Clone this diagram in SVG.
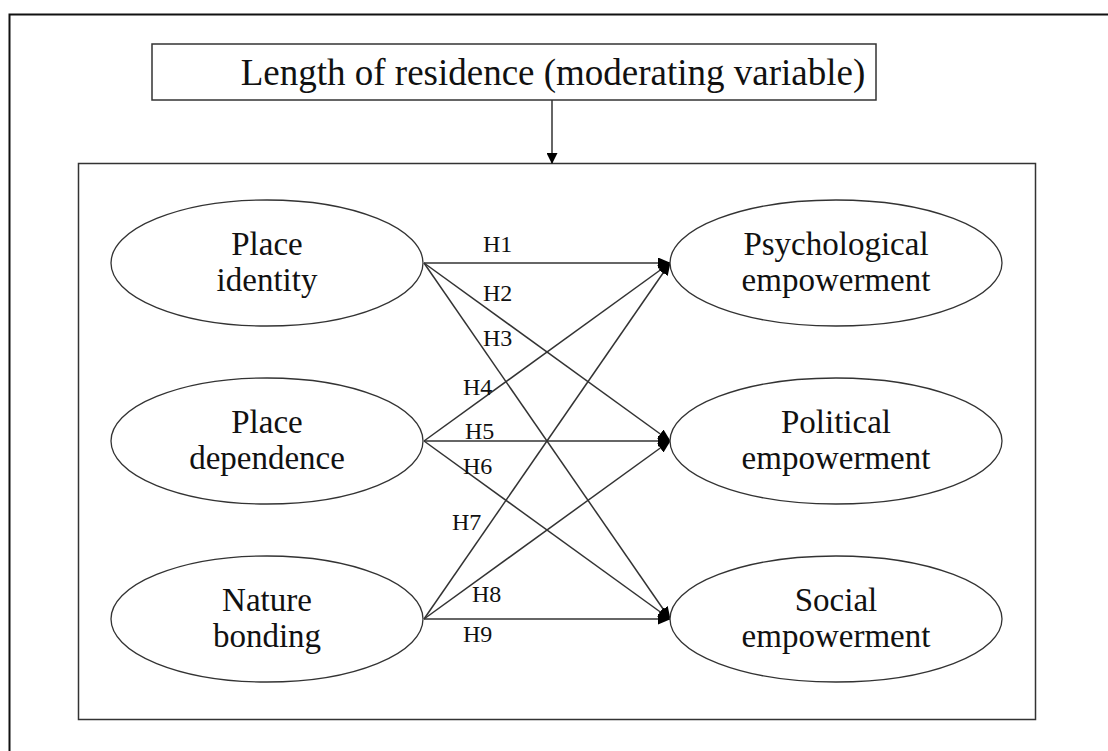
<svg xmlns="http://www.w3.org/2000/svg" width="1108" height="751" viewBox="0 0 1108 751">
<style>
.frame{fill:none;stroke:#111;stroke-width:2}
.box{fill:#fff;stroke:#333;stroke-width:1.5}
.node{fill:#fff;stroke:#333;stroke-width:1.3}
.t{text-anchor:middle}
.nt{font-size:33px}
.lbl{font-size:24px}
.edge{stroke:#333;stroke-width:1.5;fill:none;marker-end:url(#ah)}
</style>
<defs>
<marker id="ah" viewBox="0 0 13 11" refX="12" refY="5.5" markerWidth="13" markerHeight="11" markerUnits="userSpaceOnUse" orient="auto">
<path d="M0,0 L13,5.5 L0,11 z" fill="#000"/>
</marker>
<marker id="ah2" viewBox="0 0 11 11" refX="10" refY="5.5" markerWidth="11" markerHeight="11" markerUnits="userSpaceOnUse" orient="auto">
<path d="M0,0 L11,5.5 L0,11 z" fill="#000"/>
</marker>
</defs>
<rect width="1108" height="751" fill="#fff"/>
<rect class="frame" x="9.5" y="14.5" width="1110" height="760"/>
<g font-family="Liberation Serif, serif" fill="#111">
<g id="moderator">
<rect class="box" x="152" y="44" width="724" height="56"/>
<text class="t" x="553" y="85" font-size="37">Length of residence (moderating variable)</text>
</g>
<g id="model-box">
<rect class="box" x="78.5" y="163.5" width="957" height="556"/>
</g>
<g id="connectors">
<line x1="552" y1="100" x2="552" y2="163" stroke="#333" stroke-width="1.5" marker-end="url(#ah2)"/>
<line class="edge" x1="424" y1="263" x2="670" y2="263"/>
<line class="edge" x1="424" y1="263" x2="670" y2="441"/>
<line class="edge" x1="424" y1="263" x2="670" y2="619"/>
<line class="edge" x1="424" y1="441" x2="670" y2="263"/>
<line class="edge" x1="424" y1="441" x2="670" y2="441"/>
<line class="edge" x1="424" y1="441" x2="670" y2="619"/>
<line class="edge" x1="424" y1="619" x2="670" y2="263"/>
<line class="edge" x1="424" y1="619" x2="670" y2="441"/>
<line class="edge" x1="424" y1="619" x2="670" y2="619"/>
<text class="lbl" x="483" y="252">H1</text>
<text class="lbl" x="483" y="301">H2</text>
<text class="lbl" x="483" y="346">H3</text>
<text class="lbl" x="463" y="395">H4</text>
<text class="lbl" x="465" y="439">H5</text>
<text class="lbl" x="463" y="474">H6</text>
<text class="lbl" x="452" y="530">H7</text>
<text class="lbl" x="472" y="602">H8</text>
<text class="lbl" x="463" y="642">H9</text>
</g>
<g id="place-identity">
<ellipse class="node" cx="267" cy="263" rx="156" ry="63"/>
<text class="t nt" x="267" y="255">Place</text>
<text class="t nt" x="267" y="291">identity</text>
</g>
<g id="place-dependence">
<ellipse class="node" cx="267" cy="441" rx="156" ry="63"/>
<text class="t nt" x="267" y="433">Place</text>
<text class="t nt" x="267" y="469">dependence</text>
</g>
<g id="nature-bonding">
<ellipse class="node" cx="267" cy="619" rx="156" ry="63"/>
<text class="t nt" x="267" y="611">Nature</text>
<text class="t nt" x="267" y="647">bonding</text>
</g>
<g id="psychological">
<ellipse class="node" cx="836" cy="263" rx="166" ry="63"/>
<text class="t nt" x="836" y="255">Psychological</text>
<text class="t nt" x="836" y="291">empowerment</text>
</g>
<g id="political">
<ellipse class="node" cx="836" cy="441" rx="166" ry="63"/>
<text class="t nt" x="836" y="433">Political</text>
<text class="t nt" x="836" y="469">empowerment</text>
</g>
<g id="social">
<ellipse class="node" cx="836" cy="619" rx="166" ry="63"/>
<text class="t nt" x="836" y="611">Social</text>
<text class="t nt" x="836" y="647">empowerment</text>
</g>
</g>
</svg>
